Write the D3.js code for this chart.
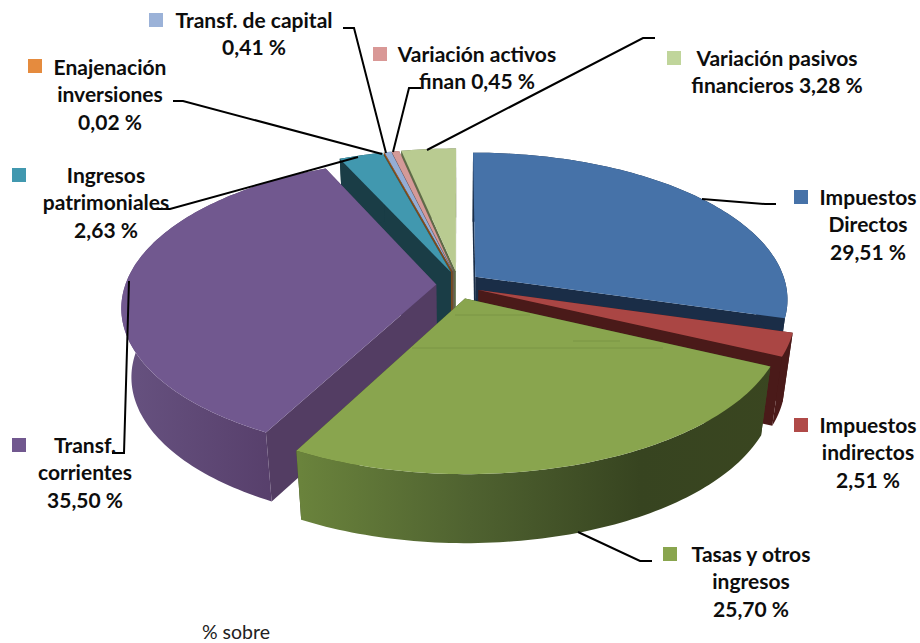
<!DOCTYPE html>
<html>
<head>
<meta charset="utf-8">
<script src="https://cdn.jsdelivr.net/npm/d3@7"></script>
<style>
  html, body { margin: 0; background: #fff; }
  text { font-family: Lato, "Open Sans", sans-serif; }
</style>
</head>
<body>
<svg width="920" height="643"></svg>
<script>
const categories = ["Impuestos Directos", "Impuestos indirectos", "Tasas y otros ingresos", "Transf. corrientes",
    "Ingresos patrimoniales", "Enajenación inversiones", "Transf. de capital", "Variación activos finan", "Variación pasivos financieros"];
const values = [29.51, 2.51, 25.70, 35.50, 2.63, 0.02, 0.41, 0.45, 3.28];
const labelLines = [
    ["Impuestos", "Directos", "29,51 %"],
    ["Impuestos", "indirectos", "2,51 %"],
    ["Tasas y otros", "ingresos", "25,70 %"],
    ["Transf.", "corrientes", "35,50 %"],
    ["Ingresos", "patrimoniales", "2,63 %"],
    ["Enajenación", "inversiones", "0,02 %"],
    ["Transf. de capital", "0,41 %"],
    ["Variación activos", "finan 0,45 %"],
    ["Variación pasivos", "financieros 3,28 %"]
];
const topColors = ["#4672a8", "#aa4644", "#89a54e", "#71588f", "#4198af", "#e58b3e", "#94add5", "#d49a98", "#b9cb91"];
const keyColors = ["#4672a8", "#b04a48", "#89a54e", "#71588f", "#4198af", "#e58b3e", "#9bb2d8", "#d99896", "#c0d59b"];
const wallColors = ["#1a2d47", "#4a1a19", "#3a4620", "#533d63", "#1a3d46", "#7a4a1c", "#4a5a72", "#75504f", "#5f6b48"];

// label placement: centre x, first baseline, legend key x/y, leader line
const labelPos = [
    {x: 868, y: 205, kx: 794, ky: 190, line: [[702, 199], [765, 204], [776, 204]]},
    {x: 868, y: 433, kx: 794, ky: 418, line: null},
    {x: 751, y: 562, kx: 663, ky: 547, line: [[578, 532], [640, 561], [652, 561]]},
    {x: 85, y: 453, kx: 12, ky: 438, line: [[129, 281], [124, 453], [112, 453]]},
    {x: 106, y: 183, kx: 12, ky: 168, line: [[358, 157], [170, 209], [154, 209]]},
    {x: 110, y: 75, kx: 28, ky: 59, line: [[382, 154], [183, 101], [173, 101]]},
    {x: 254, y: 28, kx: 149, ky: 13, line: [[386, 153], [354, 28], [343, 28]]},
    {x: 477, y: 62, kx: 373, ky: 47, line: [[393, 152], [409, 88], [421, 88]]},
    {x: 777, y: 66, kx: 667, ky: 51, line: [[427, 150], [643, 38], [655, 38]]}
];

const svg = d3.select("svg");
const cx = 458, cy = 285, R = 311, squash = 145, persp = 0.15;
const explodeX = 0.07, explodeY = 0.096, depth = 69, shrink = 0.03;

// ground plane (u, v) -> screen, z = 0 top face, z = 1 bottom face
const project = (u, v, z) => {
    const s = 1 / (1 - persp * v);
    return [cx + R * u * s * (1 - shrink * z), cy + squash * v * s + depth * z];
};

const pie = d3.pie().sort(null).startAngle(0).endAngle(2 * Math.PI).value(d => d);
const slices = pie(values).map((d, i) => {
    const mid = (d.startAngle + d.endAngle) / 2;
    return {...d, i, ox: Math.sin(mid) * explodeX, oy: -Math.cos(mid) * explodeY};
});

const line = d3.line();
const rimAngles = d => {
    const n = Math.max(2, Math.ceil((d.endAngle - d.startAngle) / 0.02));
    return d3.range(n + 1).map(j => d.startAngle + (d.endAngle - d.startAngle) * j / n);
};
const rim = (d, a, z) => project(Math.sin(a) + d.ox, -Math.cos(a) + d.oy, z);
const apex = (d, z) => project(d.ox, d.oy, z);

// side shading for the two big front slices
const defs = svg.append("defs");
const addGradient = (id, stops) => {
    const g = defs.append("linearGradient").attr("id", id)
        .attr("gradientUnits", "userSpaceOnUse")
        .attr("x1", 0).attr("x2", 920).attr("y1", 0).attr("y2", 0);
    stops.forEach(s => g.append("stop").attr("offset", s[0] / 920).attr("stop-color", s[1]));
};
addGradient("wallGreen", [[300, "#6a833c"], [470, "#4f6230"], [640, "#374420"], [790, "#3a4620"]]);
addGradient("wallPurple", [[130, "#66517f"], [275, "#573f6b"]]);
const outerFill = i => i === 2 ? "url(#wallGreen)" : i === 3 ? "url(#wallPurple)" : wallColors[i];

// back to front
const order = [8, 7, 6, 5, 4, 0, 3, 1, 2];
const pieG = svg.append("g");
order.forEach(i => {
    const d = slices[i];
    const angles = rimAngles(d);
    const g = pieG.append("g");
    // cut walls
    [d.startAngle, d.endAngle].forEach(a => {
        g.append("path")
            .attr("d", line([apex(d, 0), rim(d, a, 0), rim(d, a, 1), apex(d, 1)]) + "Z")
            .attr("fill", wallColors[i]);
    });
    // outer wall
    const outer = angles.map(a => rim(d, a, 0)).concat(angles.slice().reverse().map(a => rim(d, a, 1)));
    g.append("path").attr("d", line(outer) + "Z").attr("fill", outerFill(i));
    // top face
    const top = [apex(d, 0)].concat(angles.map(a => rim(d, a, 0)));
    g.append("path").attr("d", line(top) + "Z").attr("fill", topColors[i]);
});

// the faint render streaks on the green face
[[[412, 348], [663, 348]], [[573, 341], [620, 341]], [[455, 315], [530, 315]]].forEach(s => {
    svg.append("path").attr("d", line(s)).attr("fill", "none").attr("stroke", "#7a9545").attr("stroke-width", 1);
});

// leader lines
labelPos.forEach(p => {
    if (!p.line) return;
    svg.append("path").attr("d", line(p.line))
        .attr("fill", "none").attr("stroke", "#000").attr("stroke-width", 2);
});

// legend keys and labels
labelLines.forEach((lines, i) => {
    const p = labelPos[i];
    svg.append("rect").attr("x", p.kx).attr("y", p.ky).attr("width", 14).attr("height", 14).attr("fill", keyColors[i]);
    lines.forEach((t, j) => {
        svg.append("text").attr("x", p.x).attr("y", p.y + j * 27.3)
            .attr("text-anchor", "middle")
            .attr("font-size", 21).attr("font-weight", 700).attr("fill", "#0d0d0d")
            .text(t);
    });
});

svg.append("text").attr("x", 202).attr("y", 639).attr("font-size", 19.5).attr("fill", "#222").text("% sobre");
</script>
</body>
</html>
